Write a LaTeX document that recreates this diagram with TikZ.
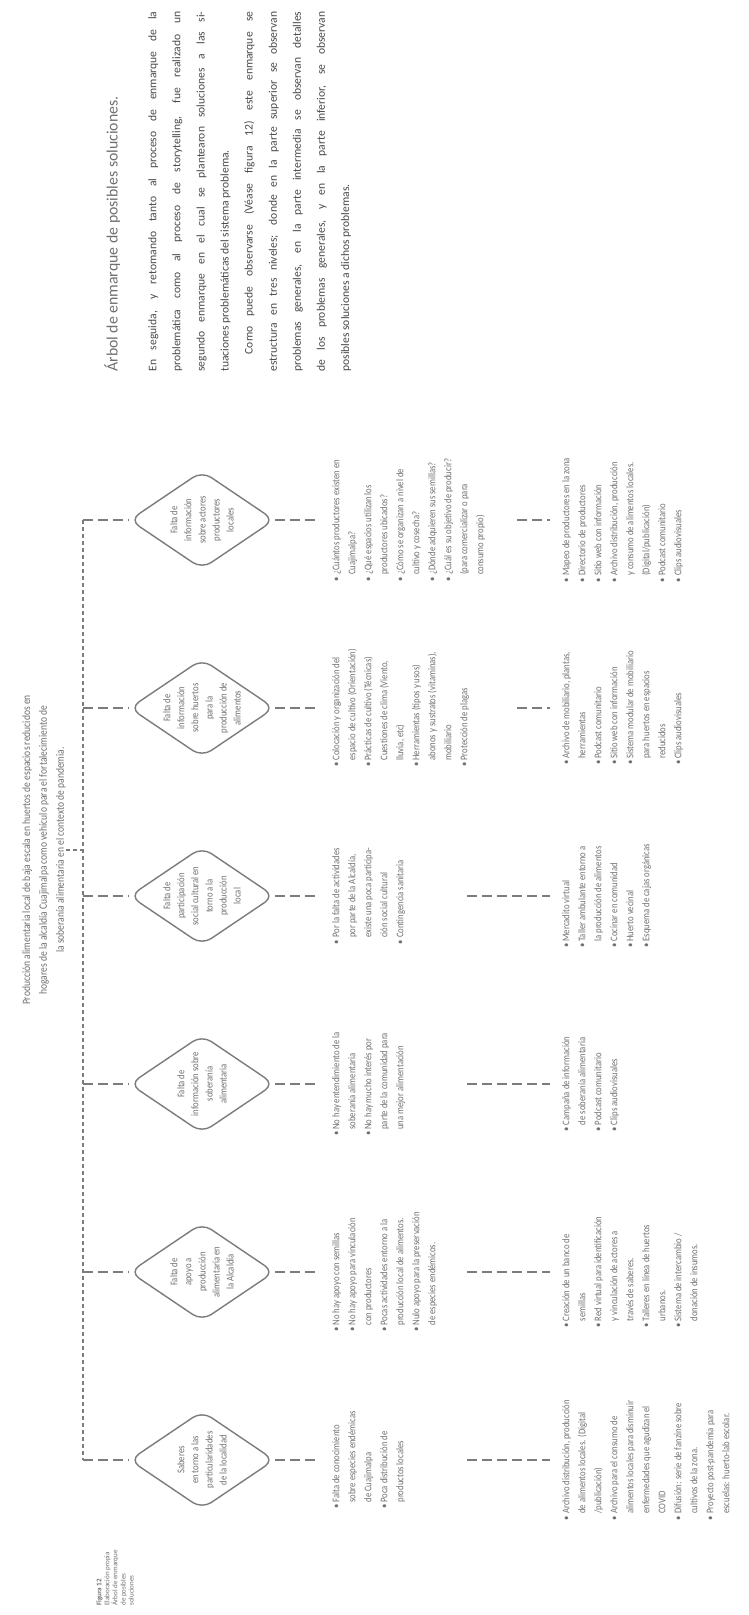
\documentclass[tikz,border=0pt]{standalone}
\usepackage{fontspec}
\setmainfont{Carlito}
\newfontfamily\narrowfont[FakeStretch=0.85]{Carlito}
\usetikzlibrary{shapes.geometric}
\definecolor{inkgray}{HTML}{707070}
\definecolor{linegray}{HTML}{7C7C7C}
\definecolor{bodygray}{HTML}{4A4A4A}
\newcommand{\bi}{\textbullet\ }
\newcommand{\ci}{\hphantom{\textbullet\ }}

\begin{document}
\begin{tikzpicture}[x=0.2mm, y=-0.2mm]
    % Define styles
    \tikzset{
        branch/.style={
            diamond,
            draw=linegray,
            line width=0.8pt,
            rounded corners=2.2mm,
            rotate=90,
            inner sep=0pt,
            minimum width=19.6mm,
            minimum height=29mm
        },
        branchtext/.style={
            rotate=90,
            align=center,
            inner sep=0pt,
            text=inkgray,
            font=\narrowfont\fontsize{5.8}{8}\selectfont
        },
        leaf/.style={
            rotate=90,
            anchor=north,
            align=left,
            inner sep=0pt,
            text=inkgray,
            font=\narrowfont\fontsize{5.8}{9.1}\selectfont
        },
        roottext/.style={
            rotate=90,
            align=center,
            inner sep=0pt,
            text=inkgray,
            font=\narrowfont\fontsize{6.4}{9.6}\selectfont
        },
        link/.style={
            draw=linegray,
            line width=1.3pt,
            dash pattern=on 2mm off 1mm
        },
        trunk/.style={
            draw=linegray,
            line width=1.1pt,
            dash pattern=on 0.8mm off 0.6mm
        }
    }

    \fill[white] (0,0) rectangle (748,1615);
    \useasboundingbox (0,0) rectangle (748,1615);

    % Root problem
    \node[roottext] (root) at (44,850) {Producción alimentaria local de baja escala en huertos de espacios reducidos en\\
        hogares de la alcaldía Cuajimalpa como vehículo para el fortalecimiento de\\
        la soberanía alimentaria en el contexto de pandemia.};
    \coordinate (hub) at (83,850);
    \coordinate (top) at (83,520);
    \coordinate (bottom) at (83,1460);
    \draw[trunk] (root.south) -- (hub);
    \draw[trunk] (top) -- (bottom);

    % General problems (diamonds)
    \foreach \i/\y in {1/1460, 2/1272, 3/1084, 4/896, 5/708, 6/520}
        \node[branch] (d\i) at (202,\y) {};

    \node[branchtext] (t1) at (d1) {Saberes\\en torno a las\\particularidades\\de la localidad};
    \node[branchtext] (t2) at (d2) {Falta de\\apoyo a\\producción\\alimentaria en\\la Alcaldía};
    \node[branchtext] (t3) at (d3) {Falta de\\información sobre\\soberanía\\alimentaria};
    \node[branchtext] (t4) at (d4) {Falta de\\participación\\social cultural en\\torno a la\\producción\\local};
    \node[branchtext] (t5) at (d5) {Falta de\\información\\sobre huertos\\para la\\producción de\\alimentos};
    \node[branchtext] (t6) at (d6) {Falta de\\información\\sobre actores\\productores\\locales};

    % Detailed problems
    \node[leaf] (p1) at (332,1460) {\bi Falta de conocimiento\\ \ci sobre especies endémicas\\ \ci de Cuajimalpa\\
        \bi Poca distribución de\\ \ci productos locales};
    \node[leaf] (p2) at (332,1272) {\bi No hay apoyo con semillas\\ \bi No hay apoyo para vinculación\\ \ci con productores\\
        \bi Pocas actividades entorno a la\\ \ci producción local de alimentos.\\
        \bi Nulo apoyo para la preservación\\ \ci de especies endémicos.};
    \node[leaf] (p3) at (332,1084) {\bi No hay entendimiento de la\\ \ci soberanía alimentaria\\
        \bi No hay mucho interés por\\ \ci parte de la comunidad para\\ \ci una mejor alimentación};
    \node[leaf] (p4) at (332,896) {\bi Por la falta de actividades\\ \ci por parte de la Alcaldía,\\ \ci existe una poca participa-\\
        \ci ción social cultural\\ \bi Contingencia sanitaria};
    \node[leaf] (p5) at (332,708) {\bi Colocación y organización del\\ \ci espacio de cultivo (Orientación)\\
        \bi Prácticas de cultivo (Técnicas)\\ \ci Cuestiones de clima (Viento,\\ \ci lluvia, etc)\\
        \bi Herramientas (tipos y usos)\\ \ci abonos y sustratos (vitaminas),\\ \ci mobiliario\\
        \bi Protección de plagas};
    \node[leaf] (p6) at (332,520) {\bi ¿Cuántos productores existen en\\ \ci Cuajimalpa?\\
        \bi ¿Qué espacios utilizan los\\ \ci productores ubicados?\\
        \bi ¿Cómo se organizan a nivel de\\ \ci cultivo y cosecha?\\
        \bi ¿Dónde adquieren sus semillas?\\
        \bi ¿Cuál es su objetivo de producir?\\ \ci (para comercializar o para\\ \ci consumo propio)};

    % Possible solutions
    \node[leaf] (s1) at (562,1460) {\bi Archivo distribución, producción\\ \ci de alimentos locales. (Digital\\ \ci /publicación)\\
        \bi Archivo para el consumo de\\ \ci alimentos locales para disminuir\\ \ci enfermedades que agudizan el\\ \ci COVID\\
        \bi Difusión: serie de fanzine sobre\\ \ci cultivos de la zona.\\
        \bi Proyecto post-pandemia para\\ \ci escuelas: huerto-lab escolar.};
    \node[leaf] (s2) at (562,1272) {\bi Creación de un banco de\\ \ci semillas\\
        \bi Red virtual para identificación\\ \ci y vinculación de actores a\\ \ci través de saberes.\\
        \bi Talleres en línea de huertos\\ \ci urbanos.\\
        \bi Sistema de intercambio /\\ \ci donación de insumos.};
    \node[leaf] (s3) at (562,1084) {\bi Campaña de información\\ \ci de soberanía alimentaria\\
        \bi Podcast comunitario\\ \bi Clips audiovisuales};
    \node[leaf] (s4) at (562,896) {\bi Mercadito virtual\\ \bi Taller ambulante entorno a\\ \ci la producción de alimentos\\
        \bi Cocinar en comunidad\\ \bi Huerto vecinal\\ \bi Esquema de cajas orgánicas};
    \node[leaf] (s5) at (562,708) {\bi Archivo de mobiliario, plantas,\\ \ci herramientas\\
        \bi Podcast comunitario\\ \bi Sitio web con información\\
        \bi Sistema modular de mobiliario\\ \ci para huertos en espacios\\ \ci reducidos\\
        \bi Clips audiovisuales};
    \node[leaf] (s6) at (562,520) {\bi Mapeo de productores en la zona\\ \bi Directorio de productores\\
        \bi Sitio web con información\\ \bi Archivo distribución, producción\\
        \ci y consumo de alimentos locales.\\ \ci (Digital/publicación)\\
        \bi Podcast comunitario\\ \bi Clips audiovisuales};

    % Connectors
    \foreach \i/\y/\m in {1/1460/467, 2/1272/467, 3/1084/467, 4/896/467, 5/708/517, 6/520/517} {
        \coordinate (j\i) at (83,\y);
        \coordinate (m\i) at (\m,\y);
        \draw[link] (j\i) -- (d\i.north);
        \draw[link, shorten >=3mm] (d\i.south) -- (p\i.north);
        \draw[link, shorten >=2.4mm] (m\i) -- (s\i.north);
    }

    % Caption
    \node[rotate=90, anchor=north west, align=left, inner sep=0pt, text=inkgray,
        font=\fontsize{4}{4.6}\selectfont] (fig) at (96,1606)
        {\textbf{Figura 12}\\Elaboración propia\\Árbol de enmarque\\de posibles\\soluciones};

    % Text block
    \node[rotate=90, anchor=north west, inner sep=0pt, text=inkgray,
        font=\fontsize{9}{11}\selectfont] (title) at (104,372)
        {Árbol de enmarque de posibles soluciones.};
    \node[rotate=90, anchor=north west, inner sep=0pt, text width=72mm, align=justify,
        text=bodygray, font=\fontsize{6.6}{13.7}\selectfont] (body) at (148,372)
        {En seguida, y retomando tanto al proceso de enmarque de la\linebreak
        problemática como al proceso de storytelling, fue realizado un\linebreak
        segundo enmarque en el cual se plantearon soluciones a las si-\linebreak
        tuaciones problemáticas del sistema problema.\par
        \hspace*{1.5em}Como puede observarse (Véase figura 12) este enmarque se\linebreak
        estructura en tres niveles; donde en la parte superior se observan\linebreak
        problemas generales, en la parte intermedia se observan detalles\linebreak
        de los problemas generales, y en la parte inferior, se observan\linebreak
        posibles soluciones a dichos problemas.};
\end{tikzpicture}
\end{document}
